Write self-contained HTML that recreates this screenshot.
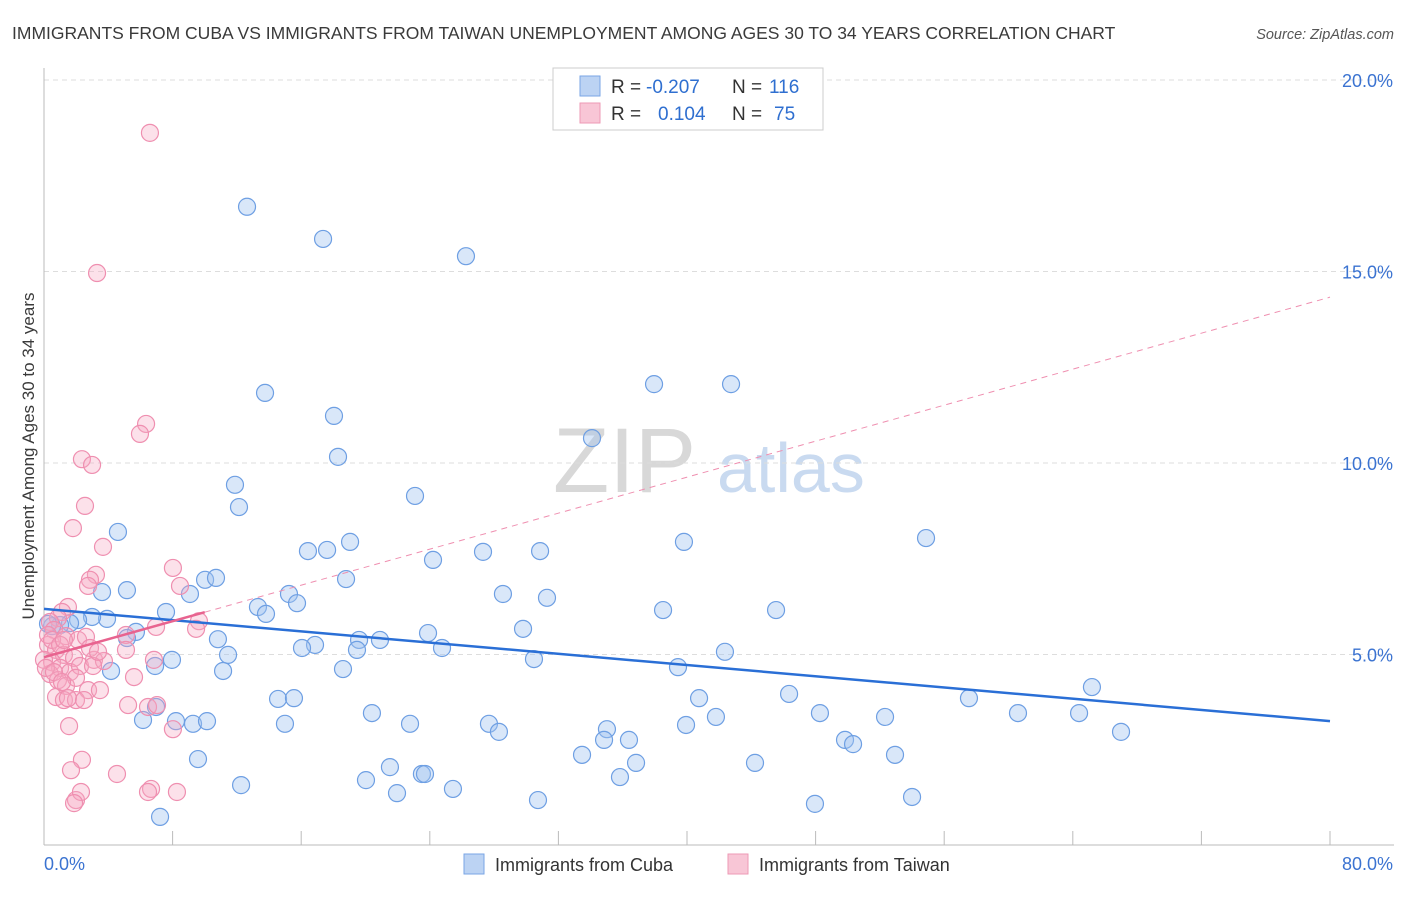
<!DOCTYPE html>
<html><head><meta charset="utf-8"><style>
body{margin:0;background:#fff;font-family:"Liberation Sans",sans-serif;}
svg text{font-family:"Liberation Sans",sans-serif;}
</style></head><body>
<svg id="chart" width="1406" height="892" xmlns="http://www.w3.org/2000/svg">
<text x="12" y="39" font-size="17.5" fill="#3a3a3a">IMMIGRANTS FROM CUBA VS IMMIGRANTS FROM TAIWAN UNEMPLOYMENT AMONG AGES 30 TO 34 YEARS CORRELATION CHART</text>
<text x="1394" y="39" font-size="14.5" fill="#555" font-style="italic" text-anchor="end">Source: ZipAtlas.com</text>
<g>
<text x="553" y="492" font-size="92" font-family="Liberation Serif,serif" fill="#d8d8d8">ZIP</text>
<text x="717" y="492" font-size="70" fill="#c9daf0">atlas</text>
</g>
<g id="grid"></g>
<g id="axes"></g>
<g id="pts"></g>
<g id="lines"></g>
<text transform="translate(34,456) rotate(-90)" font-size="17" fill="#3a3a3a" text-anchor="middle">Unemployment Among Ages 30 to 34 years</text>
<g>
<rect x="553" y="68" width="270" height="62" fill="#fff" stroke="#ccc"/>
<rect x="580" y="76" width="20" height="20" fill="#bcd3f3" stroke="#7aa6e6"/>
<rect x="580" y="103" width="20" height="20" fill="#f8c6d6" stroke="#ee99b5"/>
<text x="611" y="93" font-size="19" fill="#333">R = </text><text x="646" y="93" font-size="19" fill="#2f6fd0">-0.207</text>
<text x="732" y="93" font-size="19" fill="#333">N = </text><text x="769" y="93" font-size="19" fill="#2f6fd0">116</text>
<text x="611" y="120" font-size="19" fill="#333">R = </text><text x="658" y="120" font-size="19" fill="#2f6fd0">0.104</text>
<text x="732" y="120" font-size="19" fill="#333">N = </text><text x="774" y="120" font-size="19" fill="#2f6fd0">75</text>
</g>
<g>
<rect x="464" y="854" width="20" height="20" fill="#bcd3f3" stroke="#7aa6e6"/>
<text x="495" y="871" font-size="18" fill="#333">Immigrants from Cuba</text>
<rect x="728" y="854" width="20" height="20" fill="#f8c6d6" stroke="#ee99b5"/>
<text x="759" y="871" font-size="18" fill="#333">Immigrants from Taiwan</text>
</g>
</svg>
<script>
const yTicks=[5,10,15,20];
const yTickLabels=["5.0%","10.0%","15.0%","20.0%"];
const xTickLabels=["0.0%","80.0%"];
const cubaX=[12.63,17.36,26.25,13.75,18.04,18.29,37.95,42.74,34.09,11.88,12.13,23.08,4.60,54.87,39.81,19.04,16.42,17.61,27.31,30.86,24.20,18.79,10.02,10.70,5.16,3.61,9.08,15.24,28.55,31.29,15.74,13.31,13.81,38.51,45.54,7.59,3.92,2.99,2.12,1.62,1.00,0.50,0.25,29.80,23.89,5.72,5.16,10.82,20.90,19.60,16.86,16.05,19.47,24.76,42.36,11.45,7.96,6.91,30.48,39.44,18.60,11.14,4.17,65.19,57.54,46.35,40.75,14.56,15.55,20.40,6.97,48.27,41.80,52.32,60.59,64.39,6.16,8.21,9.27,10.14,14.99,22.77,27.68,28.30,35.02,39.94,67.00,34.84,36.39,49.83,50.33,33.47,52.94,9.58,36.83,44.23,21.52,20.03,23.51,23.70,35.83,12.26,25.44,21.96,54.00,30.73,47.96,7.22];
const cubaY=[16.69,15.85,15.40,11.83,11.23,10.16,12.06,12.06,10.65,9.43,8.85,9.14,8.20,8.04,7.94,7.94,7.70,7.73,7.68,7.70,7.47,6.97,6.95,7.00,6.68,6.63,6.58,6.58,6.58,6.48,6.34,6.24,6.06,6.16,6.16,6.11,5.93,5.98,5.90,5.82,5.77,5.74,5.80,5.67,5.56,5.59,5.43,5.40,5.38,5.38,5.25,5.17,5.12,5.17,5.07,4.99,4.86,4.70,4.88,4.67,4.62,4.57,4.57,4.15,3.86,3.97,3.86,3.84,3.86,3.47,3.63,3.47,3.37,3.37,3.47,3.47,3.29,3.26,3.19,3.26,3.19,3.19,3.19,2.98,3.05,3.16,2.98,2.77,2.77,2.77,2.66,2.38,2.38,2.27,2.17,2.17,2.06,1.72,1.88,1.88,1.80,1.59,1.49,1.38,1.28,1.20,1.10,0.76];
const taiwanX=[6.59,3.30,6.35,5.97,2.36,2.99,2.55,1.80,3.67,8.02,3.23,2.86,2.74,8.46,9.64,9.46,6.97,5.10,1.49,1.12,0.87,0.37,0.62,1.37,2.12,2.61,0.25,0.75,1.24,1.87,0.50,1.00,1.62,2.24,3.11,3.73,5.10,6.84,0.37,0.87,1.37,1.99,2.74,3.48,0.75,1.24,3.05,5.60,1.99,1.56,8.02,5.23,1.49,6.47,7.03,2.36,1.68,4.54,6.66,6.47,8.27,1.99,2.30,1.87,0.25,0.50,1.00,1.24,0.00,0.12,0.62,1.12,2.86,2.49,3.36];
const taiwanY=[18.62,14.96,11.02,10.76,10.10,9.95,8.88,8.30,7.81,7.26,7.08,6.95,6.79,6.79,5.87,5.67,5.72,5.51,6.24,6.11,5.95,5.85,5.64,5.48,5.38,5.46,5.25,5.12,4.99,4.91,4.80,4.65,4.54,4.70,4.86,4.83,5.12,4.86,4.49,4.33,4.18,4.39,4.07,4.07,3.89,3.81,4.70,4.41,3.81,3.13,3.05,3.68,3.86,3.63,3.68,2.25,1.98,1.88,1.49,1.41,1.41,1.20,1.41,1.12,5.51,5.38,5.25,5.38,4.86,4.65,4.54,4.28,5.17,3.81,5.07];
const cubaTrend=[6.19,3.26];
const taiwanTrend=[4.93,14.33];
const X0=44,X1=1330,XMAX=80,Y0=846,YS=38.3;
const sx=v=>X0+v*(X1-X0)/XMAX, sy=v=>Y0-v*YS;
const NS="http://www.w3.org/2000/svg";
function mk(tag,attrs,parent){const e=document.createElementNS(NS,tag);for(const k in attrs)e.setAttribute(k,attrs[k]);document.getElementById(parent).appendChild(e);return e;}
yTicks.forEach((t,i)=>{
 const l=mk('line',{x1:44,x2:1394,y1:sy(t),y2:sy(t),stroke:'#ddd','stroke-dasharray':'5,4'},'grid');
 
 
 const tx=mk('text',{x:1393,y:sy(t)+7,'font-size':18,fill:'#3b73d1','text-anchor':'end'},'grid');
 tx.textContent=yTickLabels[i];
 
 
});
const ax=mk('line',{x1:44,x2:1394,y1:845,y2:845,stroke:'#bbb'},'axes');


const ay=mk('line',{x1:44,x2:44,y1:68,y2:845,stroke:'#bbb'},'axes');


for(let i=0;i<=10;i++){const t=mk('line',{x1:sx(i*8),x2:sx(i*8),y1:831,y2:845,stroke:'#bbb'},'axes');
 
 }
const xl0=mk('text',{x:44,y:870,'font-size':18,fill:'#3b73d1'},'axes');xl0.textContent=xTickLabels[0];


const xl1=mk('text',{x:1393,y:870,'font-size':18,fill:'#3b73d1','text-anchor':'end'},'axes');xl1.textContent=xTickLabels[1];


cubaX.forEach((v,i)=>{const c=mk('circle',{cx:sx(v),cy:sy(cubaY[i]),r:8.5,fill:'rgba(160,195,240,0.4)',stroke:'#6e9fe3','stroke-width':1.2},'pts');
 
 });
taiwanX.forEach((v,i)=>{const c=mk('circle',{cx:sx(v),cy:sy(taiwanY[i]),r:8.5,fill:'rgba(245,170,195,0.35)',stroke:'#ef8fb0','stroke-width':1.2},'pts');
 
 });
const bl=mk('line',{x1:sx(0),y1:sy(cubaTrend[0]),x2:sx(80),y2:sy(cubaTrend[1]),stroke:'#2a6fd6','stroke-width':2.5},'lines');


const ty=x=>taiwanTrend[0]+(taiwanTrend[1]-taiwanTrend[0])*x/80;
const pd=mk('line',{x1:sx(10),y1:sy(ty(10)),x2:sx(80),y2:sy(ty(80)),stroke:'#ef8fb0','stroke-width':1,'stroke-dasharray':'6,5'},'lines');


const ps=mk('line',{x1:sx(0),y1:sy(ty(0)),x2:sx(10),y2:sy(ty(10)),stroke:'#e8638f','stroke-width':2.5},'lines');


</script>
</body></html>
